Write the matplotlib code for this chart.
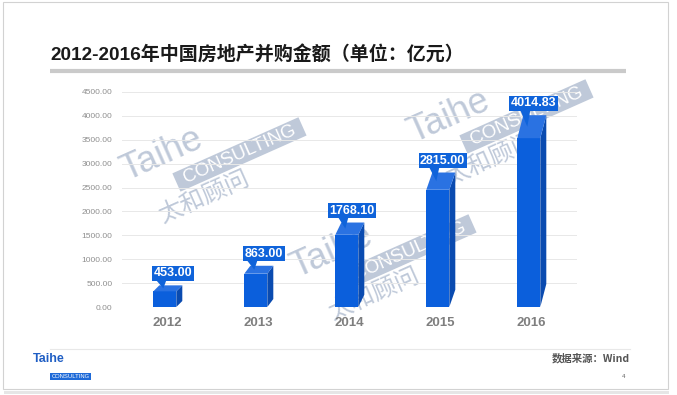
import matplotlib
matplotlib.use('Agg')
import matplotlib.pyplot as plt
from matplotlib.patches import Polygon, Rectangle
import numpy as np

# ---------------- data ----------------
years = ['2012', '2013', '2014', '2015', '2016']
values = [453.00, 863.00, 1768.10, 2815.00, 4014.83]
value_labels = ['453.00', '863.00', '1768.10', '2815.00', '4014.83']
yticks = [0, 500, 1000, 1500, 2000, 2500, 3000, 3500, 4000, 4500]
ytick_labels = ['0.00', '500.00', '1000.00', '1500.00', '2000.00', '2500.00',
                '3000.00', '3500.00', '4000.00', '4500.00']
title = '2012-2016年中国房地产并购金额（单位：亿元）'
source = '数据来源：Wind'
page_no = '4'

# ---------------- styles ----------------
W, H = 677, 395
FRONT = '#0B5FDC'
SIDE = '#0A4BB0'
TOP = '#2A72E2'
BOX = '#0F63DA'
WM = '#BFC9D9'
LAT = ['Liberation Sans', 'Noto Sans CJK SC', 'DejaVu Sans']
CJK = ['Noto Sans CJK SC', 'Liberation Sans', 'DejaVu Sans']

fig = plt.figure(figsize=(W / 100, H / 100), dpi=100)
fig.patch.set_facecolor('white')

bg = fig.add_axes([0, 0, 1, 1])
bg.set_xlim(0, W)
bg.set_ylim(H, 0)
bg.axis('off')
bg.set_zorder(0)

# slide frame + shadow
bg.add_patch(Rectangle((4, 391), 665, 2.5, fc='#E6E6E6', ec='none'))
bg.add_patch(Rectangle((3, 2), 665, 387, fc='white', ec='#D2D2D2', lw=0.8))

# title
bg.text(50, 55, title, fontsize=13.7, fontweight='bold', color='#1A1A1A',
        family=LAT, ha='left', va='center')
bg.plot([50, 626], [70.5, 70.5], color='#CACACA', lw=3.0, solid_capstyle='butt')

# footer
bg.plot([50, 630], [349, 349], color='#E8E8E8', lw=0.8)
bg.text(33, 359, 'Taihe', fontsize=9, fontweight='bold', color='#1F5EC4',
        family=LAT, ha='left', va='center')
bg.text(70.5, 376.5, 'CONSULTING', fontsize=4.2, color='white', family=LAT,
        ha='center', va='center',
        bbox=dict(boxstyle='square,pad=0.25', fc='#1E6AD8', ec='none'))
bg.text(630, 358, source, fontsize=7.5, fontweight='bold', style='italic',
        color='#555555', family=CJK, ha='right', va='center')
bg.text(625, 377, page_no, fontsize=4.5, color='#666666', family=LAT,
        ha='right', va='center')

# watermarks
def watermark(cx, cy):
    th = np.deg2rad(24)
    u = np.array([np.cos(th), -np.sin(th)])
    v = np.array([np.sin(th), np.cos(th)])
    c = np.array([cx, cy])
    p = lambda a, b: c + a * u + b * v
    x, y = p(0, 0)
    bg.text(x, y, 'Taihe', fontsize=26, color=WM, family=LAT, rotation=24,
            rotation_mode='anchor', ha='center', va='center')
    bc = (71, 31)
    corners = [p(bc[0] - 69, bc[1] - 10), p(bc[0] + 69, bc[1] - 10),
               p(bc[0] + 69, bc[1] + 10), p(bc[0] - 69, bc[1] + 10)]
    bg.add_patch(Polygon(corners, closed=True, fc=WM, ec='none'))
    x, y = p(*bc)
    bg.text(x, y, 'CONSULTING', fontsize=13.5, color='white', family=LAT,
            rotation=24, rotation_mode='anchor', ha='center', va='center')
    x, y = p(21, 55)
    bg.text(x, y, '太和顾问', fontsize=17.5, color=WM, family=CJK, rotation=24,
            rotation_mode='anchor', ha='center', va='center')

for (wx, wy) in [(162, 155), (449, 117), (332, 252)]:
    watermark(wx, wy)

# ---------------- main chart ----------------
ax_l, ax_r, ax_b, ax_t = 122, 577, 307, 92
ax = fig.add_axes([ax_l / W, 1 - ax_b / H, (ax_r - ax_l) / W, (ax_b - ax_t) / H])
ax.set_zorder(1)
ax.patch.set_alpha(0)
n = len(years)
ax.set_xlim(-0.5, n - 0.5)
ax.set_ylim(yticks[0], yticks[-1])
for s in ax.spines.values():
    s.set_visible(False)
ax.set_yticks(yticks)
ax.set_yticklabels(ytick_labels, fontsize=6, color='#8F8F8F', family=LAT)
ax.set_xticks(range(n))
ax.set_xticklabels(years, fontsize=9.5, fontweight='bold', color='#7F7F7F',
                   family=LAT)
ax.tick_params(axis='both', length=0)
ax.tick_params(axis='y', pad=7)
ax.tick_params(axis='x', pad=7)
ax.grid(axis='y', color='#E8E8E8', lw=0.7)
ax.set_axisbelow(True)

px_x = n / (ax_r - ax_l)
px_y = (yticks[-1] - yticks[0]) / (ax_b - ax_t)
front_w = 23 * px_x
shift = -2.7 * px_x
dx = 6 * px_x

vals = np.array(values)
depth = 80 + 0.1 * vals
xc = np.arange(n) + shift
ax.bar(xc, vals - depth, width=front_w, color=FRONT, zorder=3)
for i, v in enumerate(vals):
    x0 = xc[i] - front_w / 2
    x1 = xc[i] + front_w / 2
    D = depth[i]
    ax.fill([x1, x1 + dx, x1 + dx, x1], [0, D, v, v - D], color=SIDE, zorder=3, lw=0)
    ax.fill([x0, x1, x1 + dx, x0 + dx], [v - D, v - D, v, v], color=TOP, zorder=3, lw=0)
    # pointer
    ax.fill([x0 + 3 * px_x, x0 + 13 * px_x, x0 + 10 * px_x],
            [v + 5 * px_y, v + 5 * px_y, v - D / 2], color=BOX, zorder=4, lw=0)
    ax.annotate(value_labels[i], xy=(x1, v), xytext=(11.5, 4.3),
                textcoords='offset points', ha='right', va='bottom',
                fontsize=9, fontweight='bold', color='white', family=LAT,
                bbox=dict(boxstyle='square,pad=0.12', fc=BOX, ec='none'),
                zorder=5)

fig.savefig('out.png', dpi=100, facecolor='white')
